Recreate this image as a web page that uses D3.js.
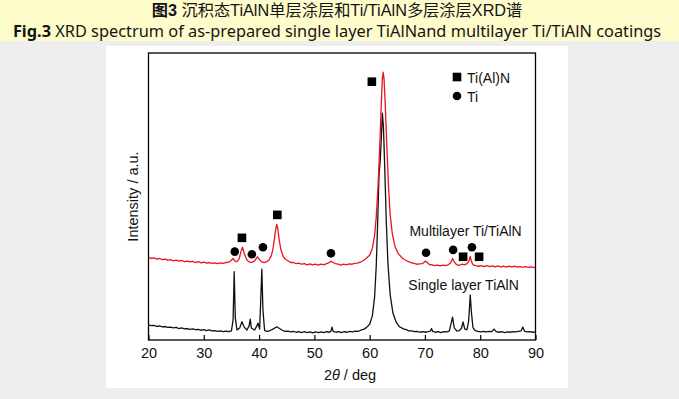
<!DOCTYPE html>
<html>
<head>
<meta charset="utf-8">
<script src="https://cdn.jsdelivr.net/npm/d3@7"></script>
<style>
  body { margin: 0; background: #eeeeee; }
  svg { display: block; }
</style>
</head>
<body>
<script>
// 2theta (deg), intensity (a.u.)
const singleLayer = [
  [20,5.3],[20.5,5.0],[21,5.1],[21.5,4.7],[22,4.9],[22.5,4.6],[23,4.7],[23.5,4.4],[24,4.5],[24.5,4.2],
  [25,4.4],[25.5,4.0],[26,4.2],[26.5,3.9],[27,4.0],[27.5,3.7],[28,3.9],[28.5,3.6],[29,3.7],[29.5,3.4],
  [30,3.6],[30.5,3.3],[31,3.5],[31.5,3.2],[32,3.3],[32.5,3.0],[33,3.2],[33.5,2.9],[34,3.1],[34.5,2.9],
  [35,3.2],[35.3,7],[35.5,23.8],[35.7,7.7],[36.0,3.5],[36.5,4.2],[36.9,6.4],[37.3,4.5],[37.8,3.5],
  [38.2,4.9],[38.4,7.3],[38.6,4.2],[39.2,3.5],[39.6,4.9],[39.8,5.9],[40.1,3.8],[40.3,13.9],[40.5,24.7],
  [40.7,10.5],[41.0,3.3],[41.5,3.0],[42,3.3],[42.5,3.8],[43.2,4.6],[43.7,4.0],[44.2,3.4],[44.7,3.0],
  [45.2,3.1],[45.7,2.8],[46.2,3.0],[46.7,2.7],[47.2,2.9],[47.7,2.6],[48.2,2.9],[48.7,2.6],[49.2,2.8],
  [49.7,2.5],[50.2,2.8],[50.7,2.6],[51.2,2.8],[51.7,2.6],[52.2,2.9],[52.7,2.7],[53.0,3.1],[53.2,4.5],
  [53.4,3.0],[53.9,2.7],[54.4,2.9],[54.9,2.6],[55.4,2.9],[55.9,2.7],[56.4,3.0],[56.9,2.8],[57.4,3.1],
  [57.9,3.0],[58.4,3.4],[58.9,3.7],[59.4,4.3],[60.0,5.5],[60.5,8.5],[60.9,15],[61.2,26],[61.5,44],
  [61.7,58],[61.9,62],[62.1,70],[62.3,79],[62.5,74],[62.7,62],[63.0,42],[63.3,27],[63.7,16],[64.2,9.5],
  [64.8,6.2],[65.4,4.6],[66.1,3.9],[66.6,3.6],[67.1,3.2],[67.6,3.2],[68.1,2.9],[68.6,3.0],[69.1,2.7],
  [69.6,2.9],[70.1,2.7],[70.6,2.9],[71.0,3.1],[71.2,4.0],[71.4,3.0],[71.9,2.7],[72.4,2.9],[72.9,2.6],
  [73.4,2.9],[73.9,2.8],[74.4,3.1],[74.8,6.3],[75.0,8.0],[75.3,4.2],[75.8,3.1],[76.2,3.3],[76.6,4.0],
  [76.9,6.3],[77.2,3.8],[77.6,3.6],[77.9,6.5],[78.05,11],[78.2,15.7],[78.4,9.8],[78.7,4.2],[79.1,3.3],
  [79.6,3.0],[80.1,2.8],[80.6,3.0],[81.1,2.8],[81.6,3.0],[82.1,2.9],[82.5,3.8],[82.9,2.9],[83.4,2.7],
  [83.9,2.9],[84.4,2.6],[84.9,2.8],[85.4,2.7],[85.9,2.9],[86.4,2.8],[86.9,3.0],[87.4,3.2],[87.7,4.5],
  [88.0,3.1],[88.5,2.8],[89.0,2.9],[89.5,2.7],[90,2.8]
];

const multiLayer = [
  [20,28.7],[20.5,28.4],[21,28.6],[21.5,28.2],[22,28.4],[22.5,28.0],[23,28.2],[23.5,27.8],[24,28.0],
  [24.5,27.6],[25,27.8],[25.5,27.5],[26,27.7],[26.5,27.3],[27,27.5],[27.5,27.2],[28,27.4],[28.5,27.0],
  [29,27.3],[29.5,26.9],[30,27.1],[30.5,26.8],[31,27.0],[31.5,26.7],[32,26.9],[32.5,26.6],[33,26.9],
  [33.5,26.7],[34,27.0],[34.5,27.1],[34.9,27.6],[35.3,28.4],[35.7,27.4],[36.0,27.3],[36.4,28.3],
  [36.7,30.7],[37.0,32.3],[37.3,30.3],[37.7,28.2],[38.1,27.3],[38.6,27.0],[39.1,27.4],[39.5,28.4],
  [39.7,29.0],[40.0,28.2],[40.4,27.3],[40.9,27.0],[41.4,27.3],[41.8,27.9],[42.2,29.3],[42.5,31.5],
  [42.8,35.5],[43.0,38.6],[43.2,40.3],[43.4,38.6],[43.6,35.5],[43.9,31.8],[44.3,29.4],[44.7,28.2],
  [45.2,27.6],[45.7,27.0],[46.2,27.0],[46.7,26.6],[47.2,26.8],[47.7,26.4],[48.2,26.6],[48.7,26.2],
  [49.2,26.5],[49.7,26.2],[50.2,26.4],[50.7,26.1],[51.2,26.4],[51.7,26.2],[52.2,26.6],[52.6,26.9],
  [53.0,27.4],[53.4,27.0],[53.8,26.6],[54.3,26.4],[54.8,26.1],[55.3,26.4],[55.8,26.2],[56.3,26.5],
  [56.8,26.4],[57.3,26.7],[57.8,26.8],[58.3,27.1],[58.8,27.6],[59.3,28.3],[60.0,29.5],[60.5,32.0],
  [60.9,36.5],[61.2,43],[61.5,53],[61.8,66],[62.1,82],[62.3,91],[62.45,93.3],[62.6,91],[62.8,83],
  [63.1,68],[63.4,54],[63.7,44],[64.1,37],[64.6,32.5],[65.2,30],[66.0,28.4],[66.5,27.8],[67.0,27.3],
  [67.5,27.0],[68.0,26.7],[68.5,26.4],[69.0,26.5],[69.5,26.6],[69.8,27.0],[70.1,27.5],[70.4,27.0],
  [70.8,26.3],[71.3,26.2],[71.8,25.9],[72.3,26.1],[72.8,25.8],[73.3,26.1],[73.8,25.9],[74.3,26.3],
  [74.7,27.0],[75.0,28.4],[75.3,27.2],[75.7,26.3],[76.2,26.0],[76.7,26.4],[77.2,26.2],[77.6,26.6],
  [77.9,27.3],[78.2,29.1],[78.4,27.4],[78.7,26.2],[79.2,25.9],[79.7,25.7],[80.2,25.9],[80.7,25.6],
  [81.2,25.9],[81.7,25.6],[82.2,25.8],[82.7,25.5],[83.2,25.8],[83.7,25.5],[84.2,25.7],[84.7,25.4],
  [85.2,25.7],[85.7,25.5],[86.2,25.7],[86.7,25.4],[87.2,25.6],[87.7,25.4],[88.2,25.6],[88.7,25.3],
  [89.2,25.5],[89.7,25.3],[90,25.4]
];

// peak markers above the multilayer pattern
const tiAlNPeaks = [[36.9,35.6],[43.3,43.6],[60.4,90.0],[76.9,29.0],[79.8,29.0]];
const tiPeaks = [[35.6,30.8],[38.7,29.9],[40.7,32.3],[53.0,30.2],[70.2,30.4],[75.1,31.4],[78.5,32.3]];

const xTicks = [20, 30, 40, 50, 60, 70, 80, 90];
const curveLabels = [
  { text: "Multilayer Ti/TiAlN", x: 67.2, y: 36.2 },
  { text: "Single layer TiAlN", x: 67.0, y: 17.4 }
];
const legendItems = [
  { text: "Ti(Al)N", shape: "square" },
  { text: "Ti", shape: "circle" }
];

const width = 679, height = 399;
const plot = { left: 148.5, right: 535.5, top: 53, bottom: 340 };
const chartFont = "'Liberation Sans', Arial, sans-serif";

const svg = d3.select("body").append("svg")
  .attr("width", width)
  .attr("height", height);

// page background: caption band, grey page, white figure panel
svg.append("rect").attr("width", width).attr("height", height).attr("fill", "#eeeeee");
svg.append("rect").attr("width", width).attr("height", 41).attr("fill", "#fffccc");
svg.append("rect").attr("x", 106).attr("y", 46).attr("width", 462).attr("height", 342).attr("fill", "#ffffff");

// caption
const fitText = (sel, target) => {
  const w = sel.node().getComputedTextLength();
  const fs = parseFloat(sel.attr("font-size"));
  sel.attr("font-size", fs * target / w);
};

const t1 = svg.append("text")
  .attr("x", 337).attr("y", 16)
  .attr("text-anchor", "middle")
  .attr("font-family", "'Liberation Sans', 'Noto Sans CJK SC', sans-serif")
  .attr("font-size", 15)
  .attr("fill", "#141414");
t1.append("tspan").attr("font-weight", "bold").text("图3");
t1.append("tspan").text(" 沉积态TiAlN单层涂层和Ti/TiAlN多层涂层XRD谱");
fitText(t1, 371);

const t2 = svg.append("text")
  .attr("x", 337).attr("y", 36.5)
  .attr("text-anchor", "middle")
  .attr("font-family", "'Noto Sans', sans-serif")
  .attr("font-size", 16)
  .attr("fill", "#141414");
t2.append("tspan").attr("font-weight", "bold").text("Fig.3");
t2.append("tspan").text(" XRD spectrum of as-prepared single layer TiAlNand multilayer Ti/TiAlN coatings");
fitText(t2, 649);

// scales
const x = d3.scaleLinear().domain([20, 90]).range([plot.left, plot.right]);
const y = d3.scaleLinear().domain([0, 100]).range([plot.bottom, plot.top]);

const line = d3.line()
  .x((d) => x(d[0]))
  .y((d) => y(d[1]));

svg.append("path")
  .datum(singleLayer)
  .attr("d", line)
  .attr("fill", "none")
  .attr("stroke", "#111111")
  .attr("stroke-width", 1.3)
  .attr("stroke-linejoin", "round");

svg.append("path")
  .datum(multiLayer)
  .attr("d", line)
  .attr("fill", "none")
  .attr("stroke", "#e8141c")
  .attr("stroke-width", 1.3)
  .attr("stroke-linejoin", "round");

// frame
svg.append("rect")
  .attr("x", plot.left).attr("y", plot.top)
  .attr("width", plot.right - plot.left)
  .attr("height", plot.bottom - plot.top)
  .attr("fill", "none")
  .attr("stroke", "#000")
  .attr("stroke-width", 1.3);

// x axis, ticks pointing inward
const xAxis = (g) =>
  g
    .call(
      d3
        .axisBottom(x)
        .tickValues(xTicks)
        .tickSizeInner(-5)
        .tickSizeOuter(0)
        .tickPadding(8)
        .tickFormat((d) => `${d}`)
    )
    .call((g) => g.select(".domain").remove())
    .call((g) => g.selectAll(".tick line").attr("stroke-width", 1.2))
    .call((g) =>
      g.selectAll(".tick text")
        .attr("font-family", chartFont)
        .attr("font-size", 14.5)
        .attr("fill", "#111")
    );

svg.append("g").attr("transform", `translate(0, ${plot.bottom})`).call(xAxis);

// axis titles
const xTitle = svg.append("text")
  .attr("x", 350).attr("y", 380)
  .attr("text-anchor", "middle")
  .attr("font-family", chartFont)
  .attr("font-size", 14.5)
  .attr("fill", "#111");
xTitle.append("tspan").text("2");
xTitle.append("tspan").attr("font-style", "italic").text("θ");
xTitle.append("tspan").text(" / deg");

svg.append("text")
  .attr("transform", `translate(138, ${(plot.top + plot.bottom) / 2}) rotate(-90)`)
  .attr("text-anchor", "middle")
  .attr("font-family", chartFont)
  .attr("font-size", 14.5)
  .attr("fill", "#111")
  .text("Intensity / a.u.");

// peak markers
const sq = 8.6;
svg.append("g").selectAll("rect").data(tiAlNPeaks).join("rect")
  .attr("x", (d) => x(d[0]) - sq / 2)
  .attr("y", (d) => y(d[1]) - sq / 2)
  .attr("width", sq).attr("height", sq)
  .attr("fill", "#000");

svg.append("g").selectAll("circle").data(tiPeaks).join("circle")
  .attr("cx", (d) => x(d[0]))
  .attr("cy", (d) => y(d[1]))
  .attr("r", 4.3)
  .attr("fill", "#000");

// curve labels
svg.append("g").selectAll("text").data(curveLabels).join("text")
  .attr("x", (d) => x(d.x))
  .attr("y", (d) => y(d.y))
  .attr("font-family", chartFont)
  .attr("font-size", 14)
  .attr("fill", "#111")
  .text((d) => d.text);

// legend
const legend = svg.append("g").attr("transform", "translate(457, 77)");
const item = legend.selectAll("g").data(legendItems).join("g")
  .attr("transform", (d, i) => `translate(0, ${i * 19})`);
item.filter((d) => d.shape === "square").append("rect")
  .attr("x", -sq / 2).attr("y", -sq / 2).attr("width", sq).attr("height", sq).attr("fill", "#000");
item.filter((d) => d.shape === "circle").append("circle")
  .attr("r", 4.3).attr("fill", "#000");
item.append("text")
  .attr("x", 10).attr("y", 5.5)
  .attr("font-family", chartFont)
  .attr("font-size", 14)
  .attr("fill", "#111")
  .text((d) => d.text);
</script>
</body>
</html>
